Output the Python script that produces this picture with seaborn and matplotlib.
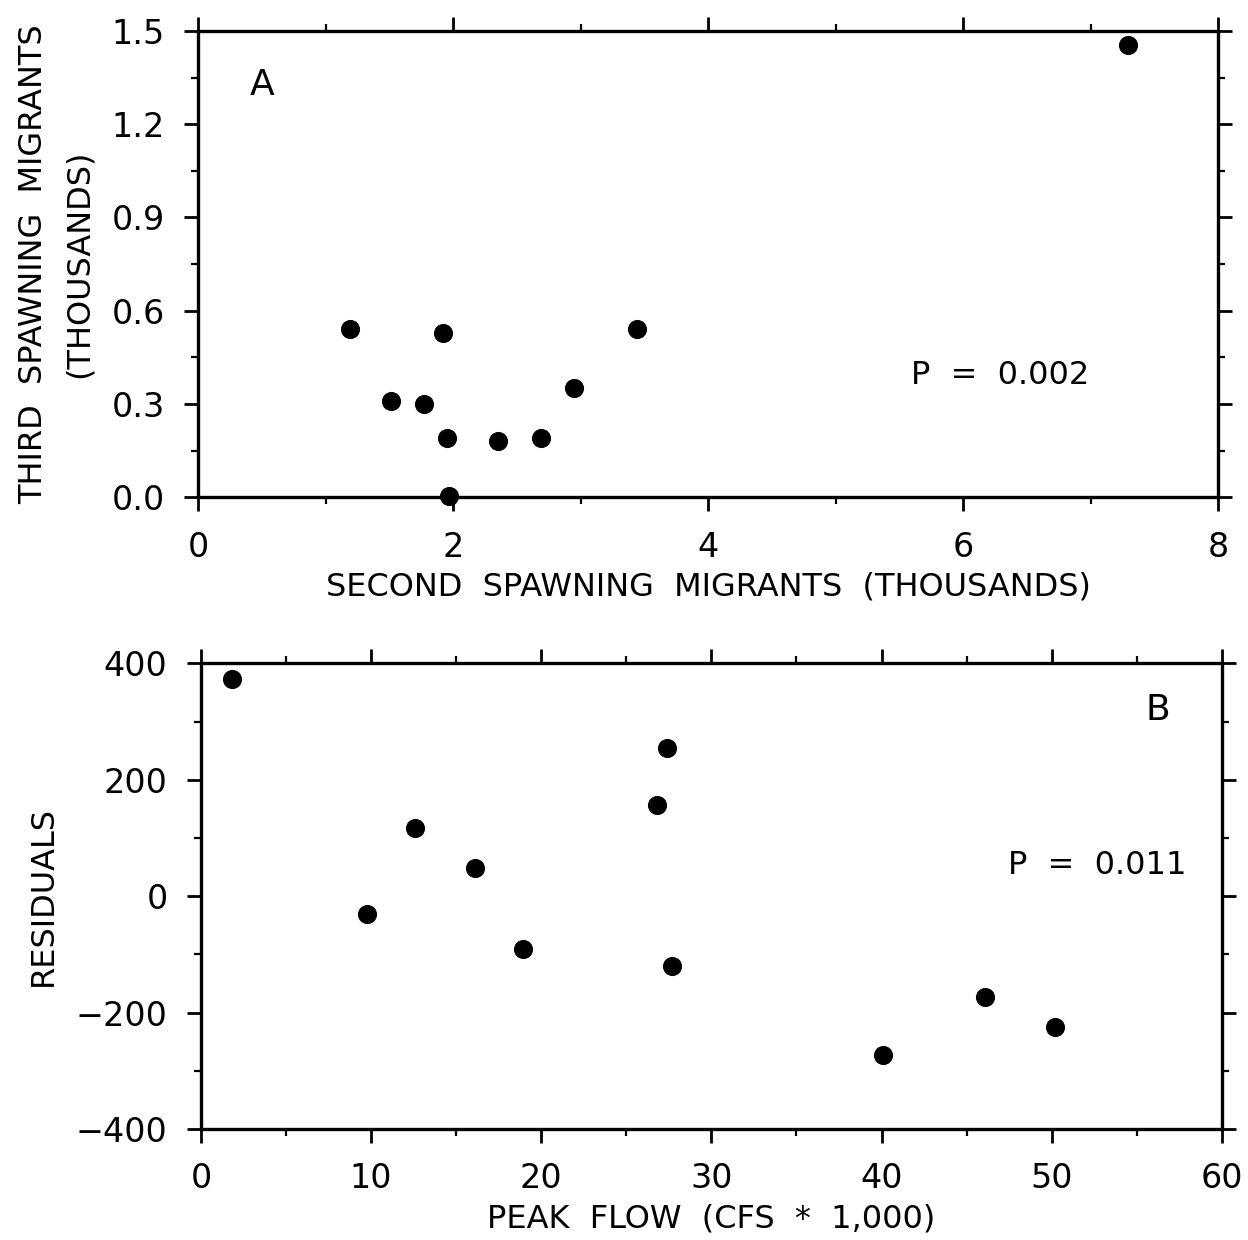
import matplotlib
matplotlib.use("Agg")
import matplotlib.pyplot as plt
from matplotlib.ticker import MultipleLocator, FormatStrFormatter
import seaborn as sns
import pandas as pd

# Panel A data
second_migrants = [1.19, 1.51, 1.77, 1.92, 1.95, 1.97, 2.35, 2.69, 2.95, 3.44, 7.29]
third_migrants = [0.54, 0.31, 0.30, 0.53, 0.19, 0.005, 0.18, 0.19, 0.35, 0.54, 1.455]

# Panel B data
peak_flow = [1.8, 9.75, 12.6, 16.1, 18.9, 26.8, 27.4, 27.7, 40.1, 46.1, 50.2]
residuals = [374, -31, 118, 48, -91, 156, 254, -120, -273, -173, -225]

sns.set_style("ticks")
plt.rcParams['font.family'] = ['DejaVu Sans']
plt.rcParams['text.color'] = 'black'
plt.rcParams['axes.labelcolor'] = 'black'
plt.rcParams['axes.linewidth'] = 2.4
plt.rcParams['xtick.major.width'] = 2.0
plt.rcParams['ytick.major.width'] = 2.0
plt.rcParams['xtick.minor.width'] = 1.6
plt.rcParams['ytick.minor.width'] = 1.6
plt.rcParams['xtick.major.size'] = 10
plt.rcParams['ytick.major.size'] = 10
plt.rcParams['xtick.minor.size'] = 5
plt.rcParams['ytick.minor.size'] = 5

fig = plt.figure(figsize=(12.48, 12.40), dpi=100)
axA = fig.add_axes([0.1587, 0.599, 0.8173, 0.376])
axB = fig.add_axes([0.161, 0.0895, 0.818, 0.3755])

dfA = pd.DataFrame({"x": second_migrants, "y": third_migrants})
dfB = pd.DataFrame({"x": peak_flow, "y": residuals})

sns.scatterplot(data=dfA, x="x", y="y", ax=axA, color="black", s=190,
                edgecolor="black", linewidth=0, clip_on=False, zorder=5)
sns.scatterplot(data=dfB, x="x", y="y", ax=axB, color="black", s=190,
                edgecolor="black", linewidth=0, clip_on=False, zorder=5)

fs_tick = 24
fs_lab = 23
for ax in (axA, axB):
    for sp in ax.spines.values():
        sp.set_visible(True)
        sp.set_color("black")
    ax.tick_params(which="both", direction="out", top=True, right=True,
                   labeltop=False, labelright=False, labelsize=fs_tick,
                   colors="black", pad=14)

axA.set_xlim(0, 8)
axA.set_ylim(0, 1.5)
axA.xaxis.set_major_locator(MultipleLocator(2))
axA.xaxis.set_minor_locator(MultipleLocator(1))
axA.yaxis.set_major_locator(MultipleLocator(0.3))
axA.yaxis.set_minor_locator(MultipleLocator(0.15))
axA.yaxis.set_major_formatter(FormatStrFormatter("%.1f"))
axA.set_xlabel("SECOND  SPAWNING  MIGRANTS  (THOUSANDS)", fontsize=fs_lab, labelpad=6)
axA.set_ylabel("THIRD  SPAWNING  MIGRANTS\n(THOUSANDS)", fontsize=fs_lab, labelpad=12,
               linespacing=1.6)
axA.text(0.063, 0.884, "A", transform=axA.transAxes, fontsize=26, ha="center", va="center")
axA.text(0.786, 0.262, "P  =  0.002", transform=axA.transAxes, fontsize=fs_lab,
         ha="center", va="center")

axB.set_xlim(0, 60)
axB.set_ylim(-400, 400)
axB.xaxis.set_major_locator(MultipleLocator(10))
axB.xaxis.set_minor_locator(MultipleLocator(5))
axB.yaxis.set_major_locator(MultipleLocator(200))
axB.yaxis.set_minor_locator(MultipleLocator(100))
axB.set_xlabel("PEAK  FLOW  (CFS  *  1,000)", fontsize=fs_lab, labelpad=6)
axB.set_ylabel("RESIDUALS", fontsize=fs_lab, labelpad=12)
axB.text(0.937, 0.899, "B", transform=axB.transAxes, fontsize=26, ha="center", va="center")
axB.text(0.878, 0.567, "P  =  0.011", transform=axB.transAxes, fontsize=fs_lab,
         ha="center", va="center")

fig.savefig("out.png", dpi=100)
